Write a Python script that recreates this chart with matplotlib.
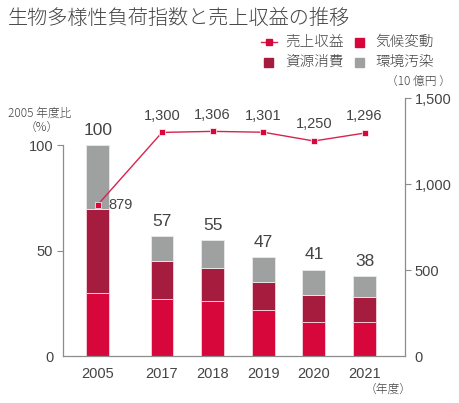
import matplotlib
matplotlib.use('Agg')
import matplotlib.pyplot as plt
import numpy as np

plt.rcParams['font.family'] = ['Liberation Sans', 'Noto Sans CJK JP', 'DejaVu Sans']

# データ
years = ['2005', '2017', '2018', '2019', '2020', '2021']
climate = [30, 27, 26, 22, 16, 16]        # 気候変動
resource = [40, 18, 16, 13, 13, 12]       # 資源消費
pollution = [30, 12, 13, 12, 12, 10]      # 環境汚染
index_total = [100, 57, 55, 47, 41, 38]
revenue = [879, 1300, 1306, 1301, 1250, 1296]  # 売上収益（10億円）

c_red = '#d7063b'
c_dark = '#a51c3f'
c_gray = '#9fa0a0'
c_line = '#d8234f'
c_text = '#444444'
c_axis = '#8c8c8c'

x = np.array([0, 1.27, 2.27, 3.27, 4.27, 5.27])
w = 0.45

fig = plt.figure(figsize=(4.6, 4.03), dpi=100)
ax = fig.add_axes([63/460, 1-356/403, 342/460, 258/403])
ax2 = ax.twinx()
ax.set_zorder(ax2.get_zorder() - 1)
ax2.patch.set_visible(False)

b1 = np.array(climate)
b2 = b1 + np.array(resource)
ax.bar(x, climate, w, color=c_red, edgecolor='#f3c9d3', linewidth=0.7)
ax.bar(x, resource, w, bottom=b1, color=c_dark, edgecolor='#f3c9d3', linewidth=0.7)
ax.bar(x, pollution, w, bottom=b2, color=c_gray, edgecolor='#e6e6e6', linewidth=0.7)

for xi, v in zip(x, index_total):
    ax.text(xi, v + 3.5, str(v), ha='center', va='bottom', fontsize=12.5, color=c_text)

ax.set_xlim(-0.686, 6.07)
ax.set_ylim(0, 100 * 258 / 210.7)
ax.set_yticks([0, 50, 100])
ax.set_xticks(x)
ax.set_xticklabels(years)
ax.tick_params(axis='x', length=0, pad=8, labelsize=10.5, colors=c_text)
ax.tick_params(axis='y', length=4, width=0.8, color=c_axis, labelsize=10.5, labelcolor=c_text, pad=3)
ax.yaxis.get_major_ticks()[0].tick1line.set_visible(False)
for s in ['top', 'right']:
    ax.spines[s].set_visible(False)
ax.spines['left'].set_bounds(0, 100)
for s in ['left', 'bottom']:
    ax.spines[s].set_color(c_axis)
    ax.spines[s].set_linewidth(0.9)

ax2.plot(x, revenue, color=c_line, linewidth=1, marker='s', markersize=5,
         markerfacecolor=c_red, markeredgecolor='white', markeredgewidth=0.5)
ax2.set_ylim(0, 1500)
ax2.set_yticks([0, 500, 1000, 1500])
ax2.set_yticklabels(['0', '500', '1,000', '1,500'])
ax2.tick_params(axis='y', length=4, width=0.8, color=c_axis, labelsize=10.5, labelcolor=c_text, pad=3)
ax2.yaxis.get_major_ticks()[0].tick2line.set_visible(False)
for s in ['top', 'left', 'bottom']:
    ax2.spines[s].set_visible(False)
ax2.spines['right'].set_color(c_axis)
ax2.spines['right'].set_linewidth(0.9)

for i, (xi, v) in enumerate(zip(x, revenue)):
    if i == 0:
        ax2.annotate(f'{v:,}', (xi, v), xytext=(8, 0), textcoords='offset points',
                     ha='left', va='center', fontsize=10.5, color=c_text)
    else:
        ax2.annotate(f'{v:,}', (xi, v), xytext=(0, 7), textcoords='offset points',
                     ha='center', va='bottom', fontsize=10.5, color=c_text)

# タイトル・注記
cjk = ['Noto Sans CJK JP', 'DejaVu Sans']
fig.text(8/460, 1-18/403, '生物多様性負荷指数と売上収益の推移', fontsize=14.5, color=c_text,
         va='center', ha='left', family=cjk, fontweight='light')
fig.text(8/460, 1-113/403, '2005 年度比', fontsize=8.5, color=c_text, va='center', ha='left',
         family=cjk, fontweight='light')
fig.text(42/460, 1-127/403, '（%）', fontsize=8.5, color=c_text, va='center', ha='center',
         family=cjk, fontweight='light')
fig.text(418/460, 1-81/403, '（10 億円 ）', fontsize=8.5, color=c_text, va='center', ha='center',
         family=cjk, fontweight='light')
fig.text(388/460, 1-389/403, '（年度）', fontsize=8.5, color=c_text, va='center', ha='center',
         family=cjk, fontweight='light')

# 凡例
lx = [(269, 42), (359, 42), (269, 62), (359, 62)]
labels = ['売上収益', '気候変動', '資源消費', '環境汚染']
cols = [c_red, c_red, c_dark, c_gray]
for k, ((px, py), lab, col) in enumerate(zip(lx, labels, cols)):
    fx, fy = px/460, 1-py/403
    if k == 0:
        fig.add_artist(plt.Line2D([fx - 8/460, fx + 8/460], [fy, fy], color=c_line, lw=1,
                                  transform=fig.transFigure))
        fig.add_artist(plt.Line2D([fx], [fy], marker='s', markersize=5, color=c_red,
                                  transform=fig.transFigure))
    else:
        fig.add_artist(plt.Rectangle((fx - 4.5/460, fy - 4.5/403), 9/460, 9/403, color=col,
                                     transform=fig.transFigure))
    fig.text((px + 16)/460, fy, lab, fontsize=10.5, color=c_text, va='center', ha='left',
             family=cjk, fontweight='light')

fig.savefig('out.png', dpi=100)
